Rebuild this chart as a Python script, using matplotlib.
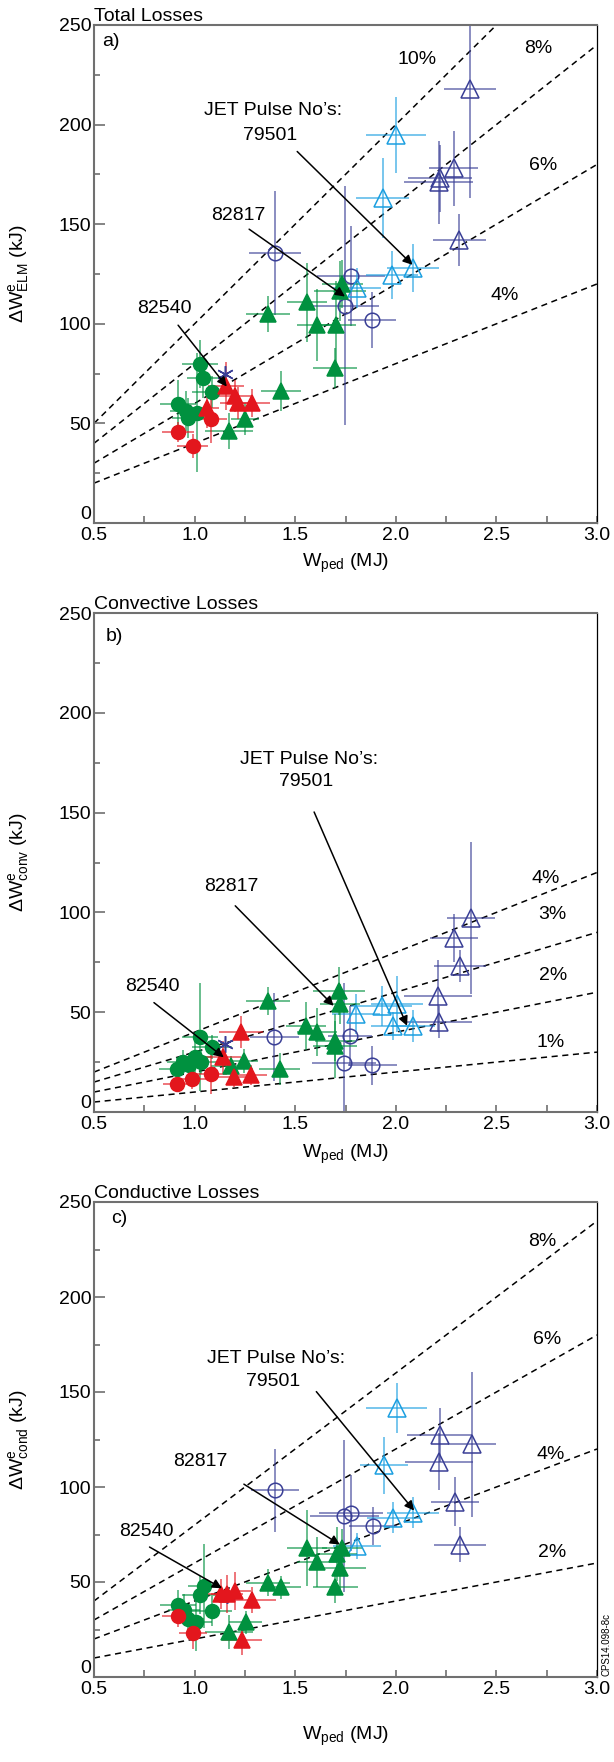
import numpy as np
import matplotlib
matplotlib.use('Agg')
import matplotlib.pyplot as plt

plt.rcParams['font.family'] = ['Liberation Sans', 'DejaVu Sans']
plt.rcParams['mathtext.fontset'] = 'custom'
plt.rcParams['mathtext.rm'] = 'Liberation Sans'
plt.rcParams['mathtext.it'] = 'Liberation Sans:italic'

# each point: (W_ped, dW, xerr, yerr)
# --- a) total losses
a_red_circ = [(0.918, 45.6, 0.08, 5), (0.990, 38.6, 0.078, 6), (1.083, 52.3, 0.08, 12)]
a_red_tri = [(1.063, 57.9, 0.06, 10), (1.157, 68.8, 0.09, 12), (1.199, 63.9, 0.08, 8),
             (1.215, 60.4, 0.09, 8), (1.283, 60.1, 0.09, 7)]
a_grn_circ = [(0.918, 59.6, 0.09, 12), (0.957, 56.2, 0.08, 10), (0.966, 52.9, 0.08, 10),
              (1.011, 55.4, 0.08, 30), (1.028, 79.7, 0.09, 12), (1.044, 73.0, 0.08, 10),
              (1.087, 65.8, 0.10, 8)]
a_grn_tri = [(1.170, 46.1, 0.12, 9), (1.252, 52.0, 0.07, 8), (1.364, 104.9, 0.11, 9),
             (1.428, 66.3, 0.10, 10), (1.559, 110.7, 0.10, 20), (1.607, 99.3, 0.10, 18),
             (1.699, 78.0, 0.11, 10), (1.704, 99.3, 0.10, 22), (1.723, 116.6, 0.13, 15),
             (1.735, 120.0, 0.10, 12)]
a_blu_circ = [(1.400, 135.5, 0.13, 31), (1.747, 109.0, 0.17, 60), (1.776, 124.0, 0.17, 25),
              (1.883, 102.0, 0.12, 14)]
a_blu_tri = [(2.213, 171.0, 0.17, 21), (2.220, 173.0, 0.16, 17), (2.287, 178.0, 0.12, 19),
             (2.316, 142.0, 0.13, 13), (2.370, 218.0, 0.13, 55)]
a_cyn_tri = [(1.806, 117.8, 0.12, 10), (1.934, 163.0, 0.13, 20), (1.982, 124.5, 0.13, 12),
             (2.000, 194.8, 0.15, 19), (2.087, 128.0, 0.13, 12)]
a_star = [(1.151, 74.7, 0, 0)]

# --- b) convective losses
b_red_circ = [(0.911, 14.1, 0.07, 4), (0.987, 16.6, 0.07, 5), (1.081, 19.1, 0.08, 10)]
b_red_tri = [(1.139, 27.4, 0.09, 8), (1.198, 17.4, 0.08, 5), (1.231, 40.2, 0.11, 8),
             (1.282, 18.6, 0.08, 5)]
b_grn_circ = [(0.915, 21.6, 0.09, 6), (0.944, 24.9, 0.08, 6), (0.973, 23.3, 0.08, 6),
              (1.003, 27.4, 0.08, 8), (1.026, 37.4, 0.09, 27), (1.032, 24.9, 0.08, 6),
              (1.087, 32.4, 0.10, 6)]
b_grn_tri = [(1.180, 23.0, 0.10, 5), (1.247, 25.7, 0.07, 6), (1.364, 55.6, 0.11, 7),
             (1.422, 21.6, 0.10, 8), (1.555, 43.2, 0.10, 12), (1.607, 39.9, 0.10, 12),
             (1.699, 33.2, 0.11, 16), (1.700, 35.7, 0.10, 10), (1.718, 60.6, 0.13, 12),
             (1.724, 54.0, 0.10, 10)]
b_blu_circ = [(1.397, 37.4, 0.12, 22), (1.744, 24.4, 0.16, 40), (1.773, 38.2, 0.11, 15),
              (1.884, 23.3, 0.12, 10)]
b_blu_tri = [(2.211, 58.1, 0.17, 18), (2.217, 44.9, 0.16, 8), (2.289, 87.2, 0.12, 12),
             (2.319, 73.1, 0.13, 8), (2.373, 97.2, 0.12, 38)]
b_cyn_tri = [(1.802, 49.0, 0.12, 10), (1.929, 53.2, 0.15, 10), (1.987, 43.2, 0.11, 7),
             (2.007, 54.0, 0.13, 14), (2.085, 43.2, 0.11, 8)]
b_star = [(1.153, 34.0, 0, 0)]

# --- c) conductive losses
c_red_circ = [(0.918, 32.1, 0.08, 6), (0.990, 22.9, 0.07, 8)]
c_red_tri = [(1.132, 43.8, 0.10, 8), (1.161, 43.8, 0.08, 10), (1.200, 45.5, 0.08, 10),
             (1.235, 19.6, 0.10, 8), (1.284, 40.5, 0.12, 7)]
c_grn_circ = [(0.918, 38.0, 0.09, 8), (0.947, 35.5, 0.08, 8), (0.966, 30.4, 0.08, 8),
              (1.006, 28.8, 0.08, 15), (1.029, 43.0, 0.09, 10), (1.045, 48.0, 0.08, 22),
              (1.084, 34.6, 0.10, 8)]
c_grn_tri = [(1.171, 23.7, 0.12, 9), (1.253, 28.8, 0.08, 6), (1.366, 49.7, 0.11, 7),
             (1.430, 47.2, 0.10, 6), (1.560, 68.0, 0.10, 20), (1.609, 60.5, 0.10, 13),
             (1.700, 47.2, 0.11, 8), (1.706, 64.7, 0.10, 14), (1.722, 57.2, 0.13, 12),
             (1.735, 68.0, 0.10, 10)]
c_blu_circ = [(1.401, 98.2, 0.12, 22), (1.745, 84.8, 0.17, 40), (1.778, 86.1, 0.16, 20),
              (1.885, 79.4, 0.12, 10)]
c_blu_tri = [(2.216, 113.2, 0.17, 15), (2.218, 127.4, 0.16, 14), (2.294, 92.3, 0.12, 13),
             (2.319, 69.7, 0.13, 9), (2.377, 122.4, 0.12, 38)]
c_cyn_tri = [(1.807, 68.9, 0.12, 7), (1.940, 111.5, 0.12, 15), (1.988, 83.9, 0.13, 8),
             (2.004, 141.6, 0.15, 13), (2.086, 86.5, 0.13, 8)]
c_star = [(1.160, 43.0, 0, 0)]

a_pcts = [10, 8, 6, 4]
b_pcts = [4, 3, 2, 1]
c_pcts = [8, 6, 4, 2]

RED = '#e3161d'
GRN = '#00913f'
BLU = '#3a3f96'
CYN = '#1b9fe0'

fig = plt.figure(figsize=(6.14, 17.62), dpi=100)
H = 1762.0
W = 614.0


def panel(top, bottom):
    return fig.add_axes([94 / W, 1 - bottom / H, 503 / W, (bottom - top) / H])


def draw(ax, pts, color, marker, filled, ms):
    d = np.array(pts, dtype=float)
    ax.errorbar(d[:, 0], d[:, 1], xerr=d[:, 2], yerr=d[:, 3], fmt='none',
                ecolor=color, elinewidth=1.1, alpha=0.75, capsize=0, zorder=2)
    ax.plot(d[:, 0], d[:, 1], ls='none', marker=marker, ms=ms,
            mfc=color if filled else 'none', mec=color, mew=1.1, zorder=3)


def style(ax, title, ylab, xlab_y):
    ax.set_xlim(0.5, 3.0)
    ax.set_ylim(0, 250)
    ax.set_xticks(np.arange(0.5, 3.01, 0.5))
    ax.set_xticks(np.arange(0.75, 3.0, 0.5), minor=True)
    ax.set_yticks(np.arange(0, 251, 50))
    ax.set_yticks(np.arange(25, 250, 50), minor=True)
    ax.set_xticklabels(['0.5', '1.0', '1.5', '2.0', '2.5', '3.0'])
    ax.tick_params(axis='both', which='both', direction='in', labelsize=14,
                   color='#707070', width=1.2, pad=2)
    ax.tick_params(axis='y', which='major', length=8)
    ax.tick_params(axis='y', which='minor', length=4.5)
    ax.tick_params(axis='x', which='both', length=5, pad=3)
    ax.get_yticklabels()[0].set_va('bottom')
    for s in ['left', 'bottom', 'top']:
        ax.spines[s].set_color('#707070')
        ax.spines[s].set_linewidth(1.5)
    ax.spines['right'].set_color('black')
    ax.spines['right'].set_linewidth(0.9)
    ax.set_title(title, loc='left', fontsize=14, pad=3)
    ax.set_ylabel(ylab, fontsize=14)
    ax.yaxis.set_label_coords(-0.125, 0.5)
    ax.set_xlabel(r'$\mathrm{W}_{\mathrm{ped}}$ (MJ)', fontsize=14)
    ax.xaxis.set_label_coords(0.5, xlab_y)


def arrow(ax, tail, tip):
    ax.annotate('', xy=tip, xytext=tail,
                arrowprops=dict(arrowstyle='-|>', color='black', lw=1.1,
                                mutation_scale=14, shrinkA=0, shrinkB=0), zorder=5)


xs = np.linspace(0.5, 3.0, 50)

panels = [
    (panel(25, 523), 'Total Losses', r'Δ$\mathrm{W}^{\mathrm{e}}_{\mathrm{ELM}}$ (kJ)', 'a)',
     (a_red_circ, a_red_tri, a_grn_circ, a_grn_tri, a_blu_circ, a_blu_tri, a_cyn_tri, a_star),
     a_pcts, -0.058),
    (panel(613, 1112), 'Convective Losses', r'Δ$\mathrm{W}^{\mathrm{e}}_{\mathrm{conv}}$ (kJ)', 'b)',
     (b_red_circ, b_red_tri, b_grn_circ, b_grn_tri, b_blu_circ, b_blu_tri, b_cyn_tri, b_star),
     b_pcts, -0.062),
    (panel(1202, 1677), 'Conductive Losses', r'Δ$\mathrm{W}^{\mathrm{e}}_{\mathrm{cond}}$ (kJ)', 'c)',
     (c_red_circ, c_red_tri, c_grn_circ, c_grn_tri, c_blu_circ, c_blu_tri, c_cyn_tri, c_star),
     c_pcts, -0.1),
]

for ax, title, ylab, letter, groups, pcts, xlab_y in panels:
    style(ax, title, ylab, xlab_y)
    for p in pcts:
        ax.plot(xs, p / 100 * xs * 1000, ls=(0, (4, 3)), color='black', lw=1.1, zorder=1)
    rc, rt, gc, gt, bc, bt, ct, st = groups
    draw(ax, bc, BLU, 'o', False, 10.5)
    draw(ax, bt, BLU, '^', False, 13)
    draw(ax, ct, CYN, '^', False, 13)
    draw(ax, st, BLU, (6, 2, 0), False, 12)
    draw(ax, gt, GRN, '^', True, 12)
    draw(ax, gc, GRN, 'o', True, 10)
    draw(ax, rt, RED, '^', True, 12)
    draw(ax, rc, RED, 'o', True, 10)

ax_a, ax_b, ax_c = panels[0][0], panels[1][0], panels[2][0]

# panel a annotations
ax_a.text(0.584, 241.6, 'a)', fontsize=14, ha='center', va='center')
for lab, x, y in [('10%', 2.108, 232.8), ('8%', 2.71, 238.3), ('6%', 2.73, 179.4), ('4%', 2.543, 114)]:
    ax_a.text(x, y, lab, fontsize=14, ha='center', va='center')
ax_a.text(1.39, 206.9, 'JET Pulse No’s:', fontsize=14, ha='center', va='center')
ax_a.text(1.374, 194.3, '79501', fontsize=14, ha='center', va='center')
arrow(ax_a, (1.51, 186.5), (2.083, 129.6))
ax_a.text(1.215, 154.2, '82817', fontsize=14, ha='center', va='center')
arrow(ax_a, (1.271, 147.5), (1.747, 113.7))
ax_a.text(0.85, 107.7, '82540', fontsize=14, ha='center', va='center')
arrow(ax_a, (0.918, 99.3), (1.16, 68.5))

# panel b annotations
ax_b.text(0.603, 238.3, 'b)', fontsize=14, ha='center', va='center')
for lab, x, y in [('4%', 2.744, 117), ('3%', 2.777, 98.8), ('2%', 2.783, 68.4), ('1%', 2.771, 34.9)]:
    ax_b.text(x, y, lab, fontsize=14, ha='center', va='center')
ax_b.text(1.568, 176.7, 'JET Pulse No’s:', fontsize=14, ha='center', va='center')
ax_b.text(1.553, 165.5, '79501', fontsize=14, ha='center', va='center')
arrow(ax_b, (1.594, 150.3), (2.056, 43.2))
ax_b.text(1.184, 113, '82817', fontsize=14, ha='center', va='center')
arrow(ax_b, (1.202, 103.3), (1.691, 53.2))
ax_b.text(0.792, 63.1, '82540', fontsize=14, ha='center', va='center')
arrow(ax_b, (0.798, 54.8), (1.145, 27.4))

# panel c annotations
ax_c.text(0.626, 241.5, 'c)', fontsize=14, ha='center', va='center')
for lab, x, y in [('8%', 2.73, 229), ('6%', 2.75, 177.7), ('4%', 2.77, 117), ('2%', 2.776, 65.6)]:
    ax_c.text(x, y, lab, fontsize=14, ha='center', va='center')
ax_c.text(1.405, 167.7, 'JET Pulse No’s:', fontsize=14, ha='center', va='center')
ax_c.text(1.389, 155.5, '79501', fontsize=14, ha='center', va='center')
arrow(ax_c, (1.605, 150.2), (2.091, 87.6))
ax_c.text(1.029, 113.2, '82817', fontsize=14, ha='center', va='center')
arrow(ax_c, (1.245, 101.5), (1.722, 69.7))
ax_c.text(0.759, 76.4, '82540', fontsize=14, ha='center', va='center')
arrow(ax_c, (0.776, 68.4), (1.136, 46.7))

fig.text(607 / W, 1 - 1676 / H, 'CPS14.098-8c', rotation=90, fontsize=7,
         ha='center', va='bottom')

fig.savefig('out.png', dpi=100)
